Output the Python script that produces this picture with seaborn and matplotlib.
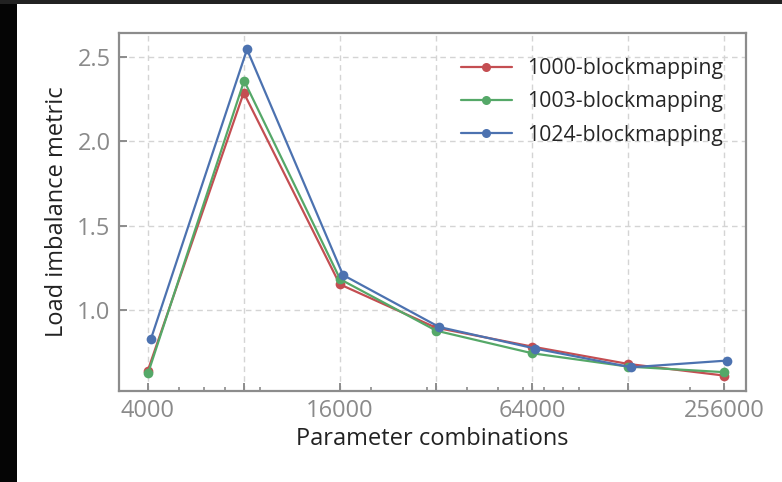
import matplotlib
matplotlib.use("Agg")
import matplotlib.pyplot as plt
import seaborn as sns
import pandas as pd
from matplotlib.patches import Rectangle

# x = blocksize * 4 * 2^k
combos_1000 = [4000, 8000, 16000, 32000, 64000, 128000, 256000]
combos_1003 = [4012, 8024, 16048, 32096, 64192, 128384, 256768]
combos_1024 = [4096, 8192, 16384, 32768, 65536, 131072, 262144]

imb_1000 = [0.638, 2.288, 1.152, 0.895, 0.783, 0.680, 0.611]
imb_1003 = [0.625, 2.359, 1.182, 0.877, 0.743, 0.664, 0.631]
imb_1024 = [0.828, 2.545, 1.207, 0.899, 0.771, 0.660, 0.700]

series = ["1000-blockmapping", "1003-blockmapping", "1024-blockmapping"]
colors = ["#C44E52", "#55A868", "#4C72B0"]

xticks = [4000, 8000, 16000, 32000, 64000, 128000, 256000]
xticklabels = ["4000", "", "16000", "", "64000", "", "256000"]
yticks = [1.0, 1.5, 2.0, 2.5]

df = pd.concat([
    pd.DataFrame({"combos": combos_1000, "imbalance": imb_1000, "mapping": series[0]}),
    pd.DataFrame({"combos": combos_1003, "imbalance": imb_1003, "mapping": series[1]}),
    pd.DataFrame({"combos": combos_1024, "imbalance": imb_1024, "mapping": series[2]}),
])

sns.set_style("white")
plt.rcParams['font.family'] = ['Open Sans', 'DejaVu Sans']

fig = plt.figure(figsize=(7.82, 4.82), dpi=100)
fig.patch.set_facecolor("#050505")
# white page with dark frame on left/top (as in the screenshot)
fig.patches.append(Rectangle((0, 0.992), 1, 0.008, transform=fig.transFigure,
                             facecolor="#222222", edgecolor="none", zorder=-2))
fig.patches.append(Rectangle((17 / 782, 0), 1, 478 / 482, transform=fig.transFigure,
                             facecolor="white", edgecolor="none", zorder=-1))

ax = fig.add_axes([0.152, 0.189, 0.802, 0.7425])
ax.set_facecolor("white")

sns.lineplot(data=df, x="combos", y="imbalance", hue="mapping",
             palette=colors, marker="o", markersize=7, markeredgewidth=0,
             linewidth=1.6, ax=ax, legend=False)

ax.set_xscale("log")
ax.set_xlim(3250, 300000)
ax.set_ylim(0.52, 2.642)
ax.set_xticks(xticks)
ax.set_xticklabels(xticklabels)
ax.set_yticks(yticks)
ax.set_yticklabels(["1.0", "1.5", "2.0", "2.5"])

ax.grid(True, which="major", linestyle=(0, (4, 3)), color="#d4d4d4", linewidth=1)
for s in ax.spines.values():
    s.set_color("#8c8c8c")
    s.set_linewidth(1.6)
ax.tick_params(axis="x", which="both", bottom=True, top=False)
ax.tick_params(axis="y", which="major", left=True, right=False)
ax.tick_params(axis="both", which="major", direction="in", length=5.5, width=1.4,
               color="#8c8c8c", labelcolor="#8a8a8a", labelsize=17, pad=6)
ax.tick_params(axis="x", which="minor", direction="in", length=3, width=1.2,
               color="#8c8c8c")
ax.tick_params(axis="y", which="minor", left=False)

ax.set_xlabel("Parameter combinations", fontsize=17, color="#222222", labelpad=3)
ax.set_ylabel("Load imbalance metric", fontsize=17, color="#222222", labelpad=6)

handles = [plt.Line2D([], [], color=c, marker="o", markersize=6.5, markeredgewidth=0,
                      linewidth=1.6) for c in colors]
ax.legend(handles, series, loc="upper left", bbox_to_anchor=(0.545, 0.93),
          frameon=False, fontsize=15.3, handlelength=2.4, handletextpad=0.75,
          labelspacing=0.58, borderpad=0, borderaxespad=0)

fig.savefig("out.png", dpi=100, facecolor=fig.get_facecolor())
